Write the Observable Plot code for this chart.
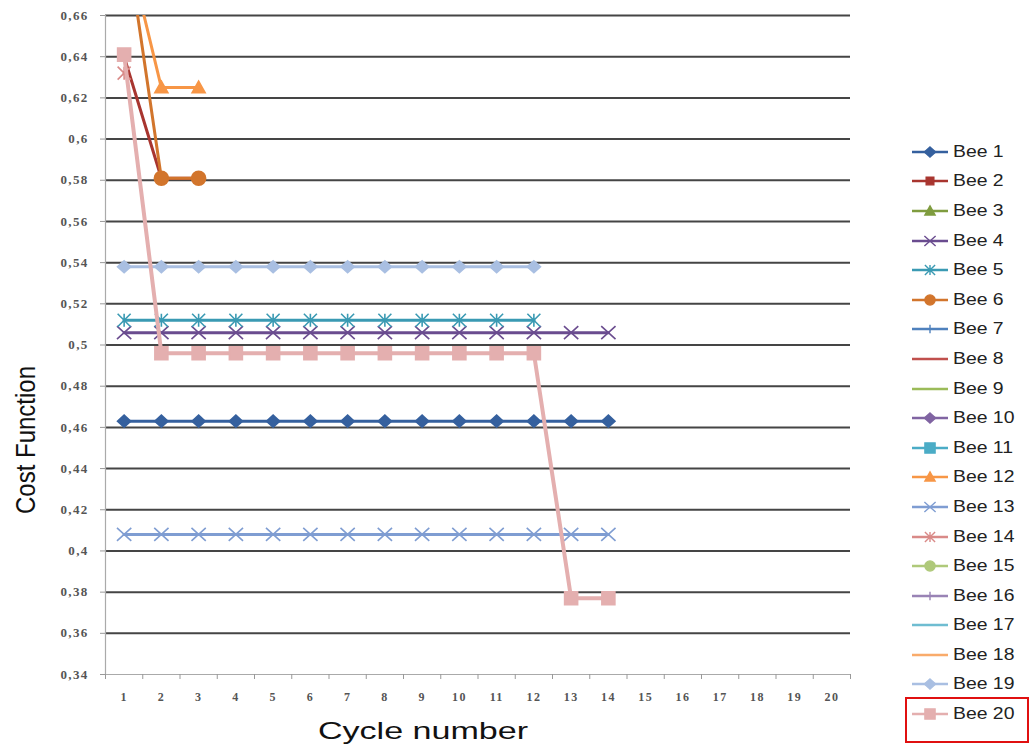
<!DOCTYPE html>
<html><head><meta charset="utf-8">
<script src="https://cdn.jsdelivr.net/npm/d3@7"></script>
<script src="https://cdn.jsdelivr.net/npm/@observablehq/plot@0.6"></script>
<style>
body{margin:0;background:#fff;width:1029px;height:748px;overflow:hidden;position:relative;font-family:"Liberation Sans",Arial,sans-serif}
#chart{position:absolute;left:0;top:0}
#chart svg text{letter-spacing:1.3px}
#ytitle{position:absolute;left:26px;top:440px;transform:translate(-50%,-50%) rotate(-90deg) scaleY(1.17);font-size:24px;color:#111;white-space:nowrap;line-height:1}
#xtitle{position:absolute;left:423px;top:731px;transform:translate(-50%,-50%) scaleX(1.42);font-size:24px;color:#111;white-space:nowrap;line-height:1}
#legend{position:absolute;left:910px;top:137px}
.row{display:flex;align-items:center;height:29.6px;font-size:17px;color:#222}
.row svg{margin-right:5px}
.row span{display:inline-block;transform:scaleX(1.14);transform-origin:left center}
#box{position:absolute;left:905px;top:697px;width:120px;height:42px;border:2px solid #e01010}
</style></head><body>
<div id="chart"></div>
<div id="ytitle">Cost Function</div>
<div id="xtitle">Cycle number</div>
<div id="legend"></div>
<div id="box"></div>
<script>
const cycles = [1,2,3,4,5,6,7,8,9,10,11,12,13,14,15,16,17,18,19,20];
const yTicks = [0.34,0.36,0.38,0.40,0.42,0.44,0.46,0.48,0.50,0.52,0.54,0.56,0.58,0.60,0.62,0.64,0.66];
const beeNames = ["Bee 1","Bee 2","Bee 3","Bee 4","Bee 5","Bee 6","Bee 7","Bee 8","Bee 9","Bee 10","Bee 11","Bee 12","Bee 13","Bee 14","Bee 15","Bee 16","Bee 17","Bee 18","Bee 19","Bee 20"];
const beeColors = ["#35609e","#a8352f","#7f9c3f","#6a4c8f","#3a9ab3","#d2752c","#4f81bd","#c0504d","#9bbb59","#8064a2","#4bacc6","#f79646","#7f9dd2","#d98a88","#afc97a","#9983b5","#6fbdd1","#f9ab6b","#a9bfe2","#e4afaf"];
const beeMarkers = ["diamond","square","triangle","times","asterisk","circle","plus","dash","none","diamond","square","triangle","times","asterisk","circle","plus","dash","none","diamond","square"];
const beeMarkerSizes = [6,4.5,6,6.5,6.5,7,5,4,0,6,6,6.5,6.5,6.5,6,5,4,0,6,6.5];

// values per cycle (index 0 = cycle 1)
const bee1  = [0.463,0.463,0.463,0.463,0.463,0.463,0.463,0.463,0.463,0.463,0.463,0.463,0.463,0.463];
const bee2  = [0.640,0.581,0.581];
const bee3  = [];
const bee4  = [0.506,0.506,0.506,0.506,0.506,0.506,0.506,0.506,0.506,0.506,0.506,0.506,0.506,0.506];
const bee5  = [0.512,0.512,0.512,0.512,0.512,0.512,0.512,0.512,0.512,0.512,0.512,0.512];
const bee6  = [0.705,0.581,0.581];
const bee7  = [];
const bee8  = [];
const bee9  = [];
const bee10 = [];
const bee11 = [];
const bee12 = [0.700,0.625,0.625];
const bee13 = [0.408,0.408,0.408,0.408,0.408,0.408,0.408,0.408,0.408,0.408,0.408,0.408,0.408,0.408];
const bee14 = [0.632];
const bee15 = [];
const bee16 = [];
const bee17 = [];
const bee18 = [];
const bee19 = [0.538,0.538,0.538,0.538,0.538,0.538,0.538,0.538,0.538,0.538,0.538,0.538];
const bee20 = [0.641,0.496,0.496,0.496,0.496,0.496,0.496,0.496,0.496,0.496,0.496,0.496,0.377,0.377];

const beeSeries = [bee1,bee2,bee3,bee4,bee5,bee6,bee7,bee8,bee9,bee10,bee11,bee12,bee13,bee14,bee15,bee16,bee17,bee18,bee19,bee20];

// Excel-like marker shapes; half extent = sqrt(size/PI)
const h = s => Math.sqrt(s / Math.PI);
const shapes = {
  diamond:{draw(c,s){const r=h(s);c.moveTo(0,-r);c.lineTo(r*1.1,0);c.lineTo(0,r);c.lineTo(-r*1.1,0);c.closePath();}},
  square:{draw(c,s){const r=h(s);c.rect(-r,-r,2*r,2*r);}},
  triangle:{draw(c,s){const r=h(s);c.moveTo(0,-r);c.lineTo(r,r*0.8);c.lineTo(-r,r*0.8);c.closePath();}},
  times:{draw(c,s){const r=h(s);c.moveTo(-r*1.1,-r);c.lineTo(r*1.1,r);c.moveTo(r*1.1,-r);c.lineTo(-r*1.1,r);}},
  asterisk:{draw(c,s){const r=h(s);c.moveTo(-r,-r);c.lineTo(r,r);c.moveTo(r,-r);c.lineTo(-r,r);c.moveTo(0,-r);c.lineTo(0,r);}},
  circle:{draw(c,s){const r=h(s);c.moveTo(r,0);c.arc(0,0,r,0,2*Math.PI);}},
  plus:{draw(c,s){const r=h(s);c.moveTo(0,-r);c.lineTo(0,r);c.moveTo(-r,0);c.lineTo(r,0);}},
  dash:{draw(c,s){const r=h(s);c.moveTo(-r,0);c.lineTo(r,0);}},
  none:{draw(c,s){}}
};

const rows = [];
beeSeries.forEach((vals, i) => vals.forEach((v, j) => rows.push({bee: beeNames[i], idx: i, cycle: cycles[j], value: v})));

const bounds = [0].concat(cycles).map(c => c + 0.5);
const fmt = v => String(+v.toFixed(2)).replace(".", ",");

const plot = Plot.plot({
  width: 880, height: 748,
  marginLeft: 105, marginRight: 30, marginTop: 15, marginBottom: 74,
  x: {type: "linear", domain: [0.5, 20.5]},
  y: {domain: [0.34, 0.66]},
  color: {domain: beeNames, range: beeColors},
  style: {background: "transparent"},
  marks: [
    Plot.ruleY(yTicks.slice(1), {stroke: "#454545", strokeWidth: 2}),
    Plot.ruleY([0.34], {stroke: "#aaa", strokeWidth: 1.2}),
    Plot.ruleX([0.5], {stroke: "#aaa", strokeWidth: 1.2}),
    Plot.axisY(yTicks, {tickSize: 5, tickPadding: 12, tickFormat: fmt, stroke: "#999", fontFamily: "Liberation Serif", fontSize: 13, fontWeight: "bold", fill: "#555", label: null}),
    Plot.axisX(bounds, {tickSize: 5, tickFormat: () => "", stroke: "#999", label: null}),
    Plot.axisX(cycles, {tickSize: 0, tickPadding: 18, tickFormat: d => String(d), fontFamily: "Liberation Serif", fontSize: 12, fontWeight: "bold", fill: "#555", label: null}),
    ...beeNames.map((name, i) => {
      const data = rows.filter(r => r.idx === i);
      const m = beeMarkers[i];
      return [
        Plot.line(data, {x: "cycle", y: "value", stroke: "bee", strokeWidth: i === 19 ? 4 : 3, clip: true}),
        Plot.dot(data, {x: "cycle", y: "value", symbol: () => shapes[m], r: beeMarkerSizes[i], fill: "bee", stroke: "bee", strokeWidth: 1.6, clip: true})
      ];
    })
  ]
});
document.getElementById("chart").appendChild(plot);

// legend
const lg = d3.select("#legend");
beeNames.forEach((name, i) => {
  const row = lg.append("div").attr("class", "row");
  const svg = row.append("svg").attr("width", 38).attr("height", 16);
  svg.append("line").attr("x1", 2).attr("x2", 38).attr("y1", 8).attr("y2", 8).attr("stroke", beeColors[i]).attr("stroke-width", 2.5);
  const m = beeMarkers[i];
  const r = Math.min(beeMarkerSizes[i], 6) * 0.85;
  svg.append("path").attr("transform", "translate(20,8)")
    .attr("d", d3.symbol(shapes[m], Math.PI * r * r)())
    .attr("fill", beeColors[i]).attr("stroke", beeColors[i]).attr("stroke-width", 1.4);
  row.append("span").text(name);
});
</script>
</body></html>
